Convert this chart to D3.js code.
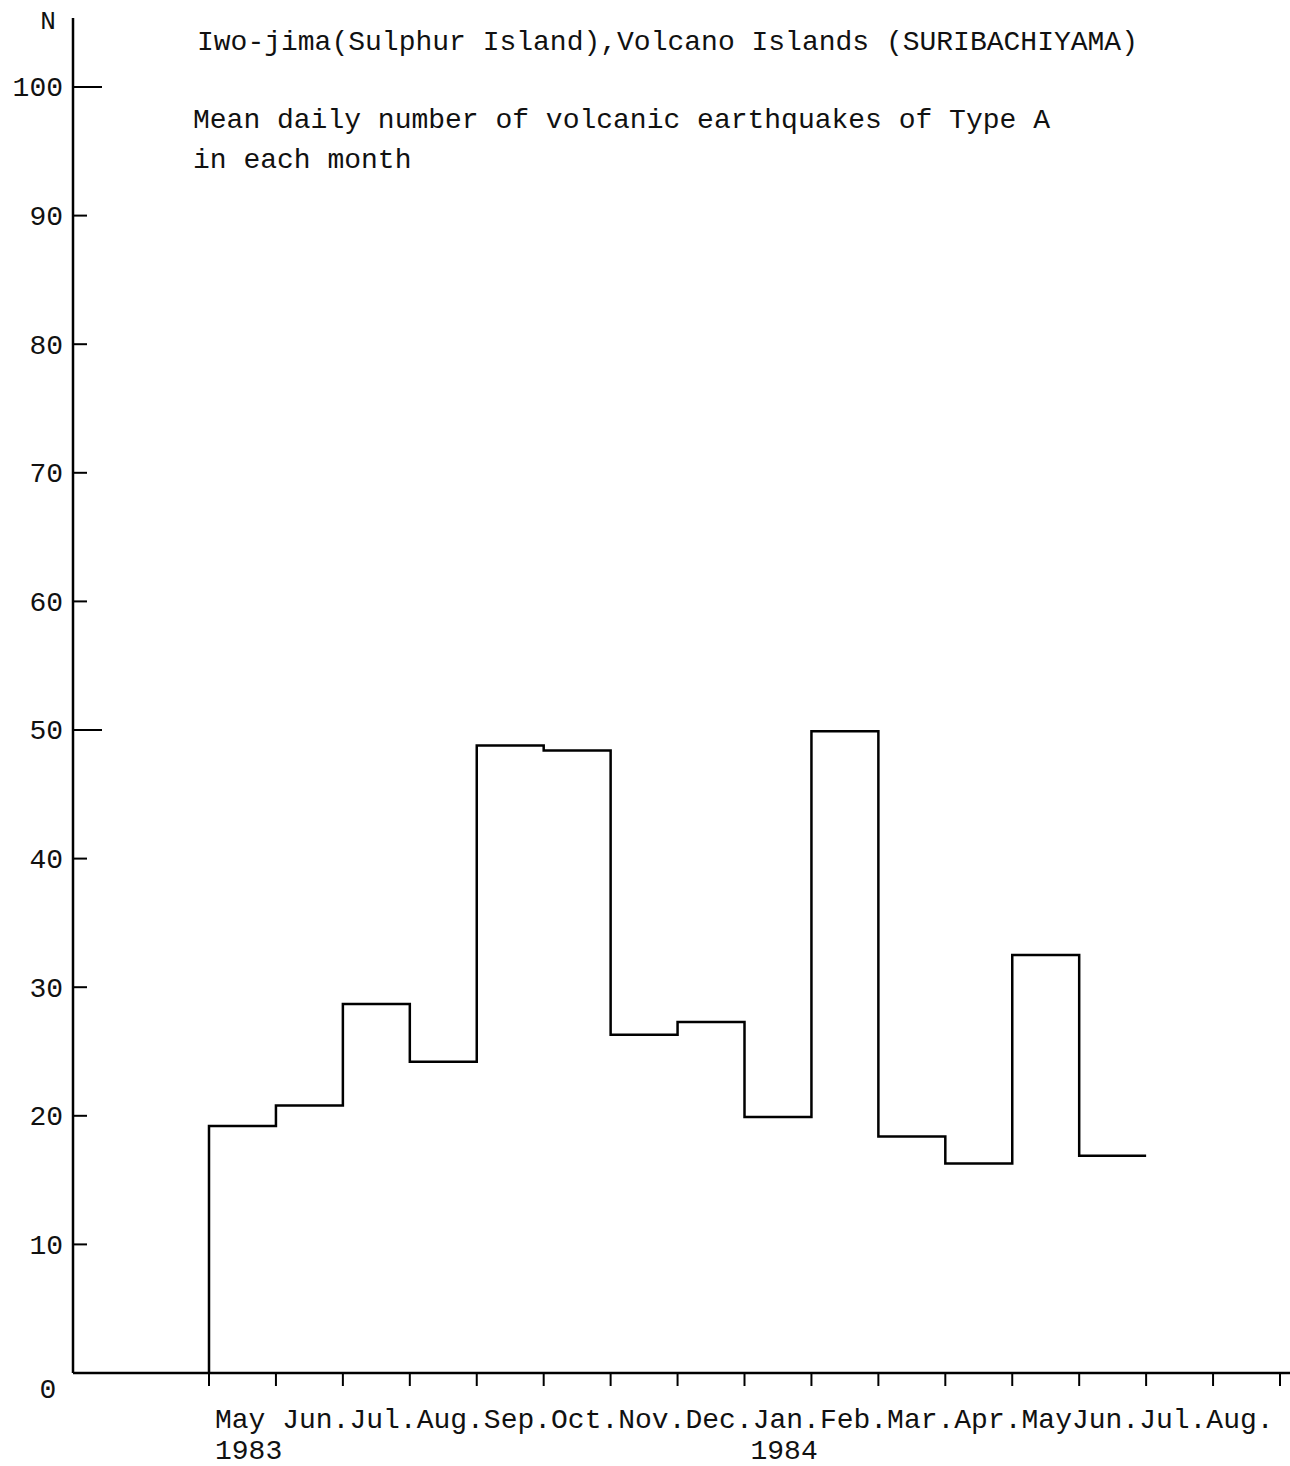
<!DOCTYPE html>
<html>
<head>
<meta charset="utf-8">
<title>Iwo-jima Type A earthquakes</title>
<script src="https://cdn.jsdelivr.net/npm/d3@7"></script>
<style>
  body { margin: 0; background: #fff; }
  text { font-family: "Liberation Mono", "Courier New", monospace; fill: #111; }
</style>
</head>
<body>
<script>
// month labels as typed under the axis (one per month, start of month)
const monthLabels = ["May ", "Jun.", "Jul.", "Aug.", "Sep.", "Oct.", "Nov.", "Dec.",
                     "Jan.", "Feb.", "Mar.", "Apr.", "May", "Jun.", "Jul.", "Aug."];
// mean daily number of Type A quakes, May 1983 .. Jun 1984
const counts = [19.2, 20.8, 28.7, 24.2, 48.8, 48.4, 26.3, 27.3, 19.9, 49.9, 18.4, 16.3, 32.5, 16.9];
const yTicks = [10, 20, 30, 40, 50, 60, 70, 80, 90, 100];
const years = [{label: "1983", month: 0}, {label: "1984", month: 8}];
const titleLines = ["Iwo-jima(Sulphur Island),Volcano Islands (SURIBACHIYAMA)",
                    "Mean daily number of volcanic earthquakes of Type A",
                    "in each month"];

window.onload = function() {

  const w = 1290;
  const h = 1466;
  const axisX = 73;
  const axisY = 1373;

  const svg = d3.select("body")
                .append("svg")
                .attr("width", w)
                .attr("height", h);

  // month boundaries: 0 = start of May 1983 .. 16 = start of Sep 1984
  const x = d3.scaleLinear().domain([0, 16]).range([209, 1280]);
  const y = d3.scaleLinear().domain([0, 100]).range([axisY, 87]);

  // y axis
  svg.append("line")
     .attr("x1", axisX).attr("x2", axisX)
     .attr("y1", 18).attr("y2", axisY)
     .attr("stroke", "#000").attr("stroke-width", 2.5);

  svg.selectAll(".ytick")
     .data(yTicks)
     .enter()
     .append("line")
     .attr("x1", axisX)
     .attr("x2", d => axisX + (d % 50 == 0 ? 29 : 14))
     .attr("y1", d => y(d)).attr("y2", d => y(d))
     .attr("stroke", "#000").attr("stroke-width", 2);

  svg.selectAll(".ylab")
     .data(yTicks)
     .enter()
     .append("text")
     .attr("x", 63)
     .attr("y", d => y(d) + 2)
     .attr("text-anchor", "end")
     .attr("dominant-baseline", "middle")
     .attr("font-size", 28)
     .text(d => d);

  svg.append("text").attr("x", 48).attr("y", 1398)
     .attr("text-anchor", "middle").attr("font-size", 28).text("0");
  svg.append("text").attr("x", 48).attr("y", 29)
     .attr("text-anchor", "middle").attr("font-size", 26).text("N");

  // x axis
  svg.append("line")
     .attr("x1", axisX).attr("x2", w)
     .attr("y1", axisY).attr("y2", axisY)
     .attr("stroke", "#000").attr("stroke-width", 2.5);

  svg.selectAll(".xtick")
     .data(d3.range(17))
     .enter()
     .append("line")
     .attr("x1", d => x(d)).attr("x2", d => x(d))
     .attr("y1", axisY).attr("y2", axisY + 13)
     .attr("stroke", "#000").attr("stroke-width", 2);

  // typed as one line, so keep it one string
  svg.append("text")
     .attr("x", x(0) + 6)
     .attr("y", 1428)
     .attr("font-size", 28)
     .attr("xml:space", "preserve")
     .style("white-space", "pre")
     .text(monthLabels.join(""));

  svg.selectAll(".year")
     .data(years)
     .enter()
     .append("text")
     .attr("x", d => x(d.month) + 6)
     .attr("y", 1459)
     .attr("font-size", 28)
     .text(d => d.label);

  // step line
  let pts = [[x(0), y(0)]];
  counts.forEach(function(v, i) {
    pts.push([x(i), y(v)]);
    pts.push([x(i + 1), y(v)]);
  });

  svg.append("path")
     .attr("d", d3.line()(pts))
     .attr("fill", "none")
     .attr("stroke", "#000")
     .attr("stroke-width", 2.5)
     .attr("stroke-linejoin", "miter");

  // titles
  svg.append("text").attr("x", 197).attr("y", 50)
     .attr("font-size", 28).text(titleLines[0]);
  svg.append("text").attr("x", 193).attr("y", 128)
     .attr("font-size", 28).text(titleLines[1]);
  svg.append("text").attr("x", 193).attr("y", 168)
     .attr("font-size", 28).text(titleLines[2]);
};
</script>
</body>
</html>
